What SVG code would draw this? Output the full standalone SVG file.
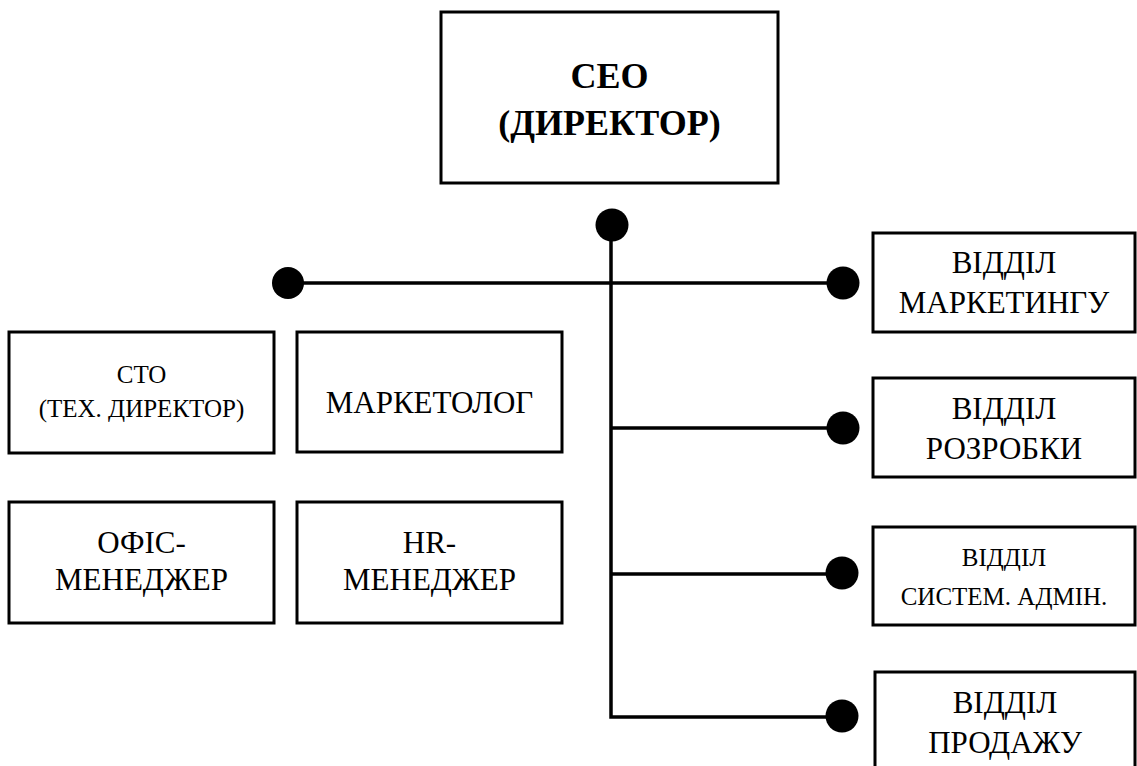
<svg xmlns="http://www.w3.org/2000/svg" width="1137" height="766" viewBox="0 0 1137 766">
<style>
.box{fill:#fff;stroke:#000;stroke-width:3}
text{font-family:"Liberation Serif","Times New Roman",serif;fill:#000;text-anchor:middle}
.b{font-weight:bold;font-size:36px}
.n30{font-size:31px}
.n25{font-size:25px}
.ln{stroke:#000;stroke-width:3.5;fill:none}
.dot{fill:#000}
</style>
<rect width="1137" height="766" fill="#fff"/>
<g id="connectors">
<path class="ln" d="M288 283 H843"/>
<path class="ln" d="M611 225 V717 H843"/>
<path class="ln" d="M611 428 H843"/>
<path class="ln" d="M611 574 H843"/>
<circle class="dot" cx="612" cy="225" r="16.5"/>
<circle class="dot" cx="288" cy="283" r="16"/>
<circle class="dot" cx="843" cy="283" r="16.5"/>
<circle class="dot" cx="843" cy="428" r="16.5"/>
<circle class="dot" cx="842" cy="573" r="16.5"/>
<circle class="dot" cx="842" cy="716" r="16.5"/>
</g>
<g id="ceo">
<rect class="box" x="441" y="12" width="337" height="171"/>
<text class="b" x="609.5" y="88">CEO</text>
<text class="b" x="609.5" y="135">(ДИРЕКТОР)</text>
</g>
<g id="cto">
<rect class="box" x="9" y="332" width="265" height="121"/>
<text class="n25" x="141.5" y="383">CTO</text>
<text class="n25" x="141.5" y="417">(ТЕХ. ДИРЕКТОР)</text>
</g>
<g id="marketolog">
<rect class="box" x="297" y="332" width="265" height="120"/>
<text class="n30" x="429.5" y="413">МАРКЕТОЛОГ</text>
</g>
<g id="office">
<rect class="box" x="9" y="502" width="265" height="121"/>
<text class="n30" x="141.5" y="553">ОФІС-</text>
<text class="n30" x="141.5" y="590">МЕНЕДЖЕР</text>
</g>
<g id="hr">
<rect class="box" x="297" y="502" width="265" height="121"/>
<text class="n30" x="429.5" y="553">HR-</text>
<text class="n30" x="429.5" y="590">МЕНЕДЖЕР</text>
</g>
<g id="marketing">
<rect class="box" x="873" y="233" width="262" height="99"/>
<text class="n30" x="1004" y="273">ВІДДІЛ</text>
<text class="n30" x="1004" y="313">МАРКЕТИНГУ</text>
</g>
<g id="development">
<rect class="box" x="873" y="378" width="262" height="99"/>
<text class="n30" x="1004" y="419">ВІДДІЛ</text>
<text class="n30" x="1004" y="459">РОЗРОБКИ</text>
</g>
<g id="sysadmin">
<rect class="box" x="873" y="527" width="262" height="98"/>
<text class="n25" x="1004" y="566">ВІДДІЛ</text>
<text class="n25" x="1004" y="605">СИСТЕМ. АДМІН.</text>
</g>
<g id="sales">
<rect class="box" x="875" y="672" width="260" height="110"/>
<text class="n30" x="1005" y="713">ВІДДІЛ</text>
<text class="n30" x="1005" y="753">ПРОДАЖУ</text>
</g>
</svg>
